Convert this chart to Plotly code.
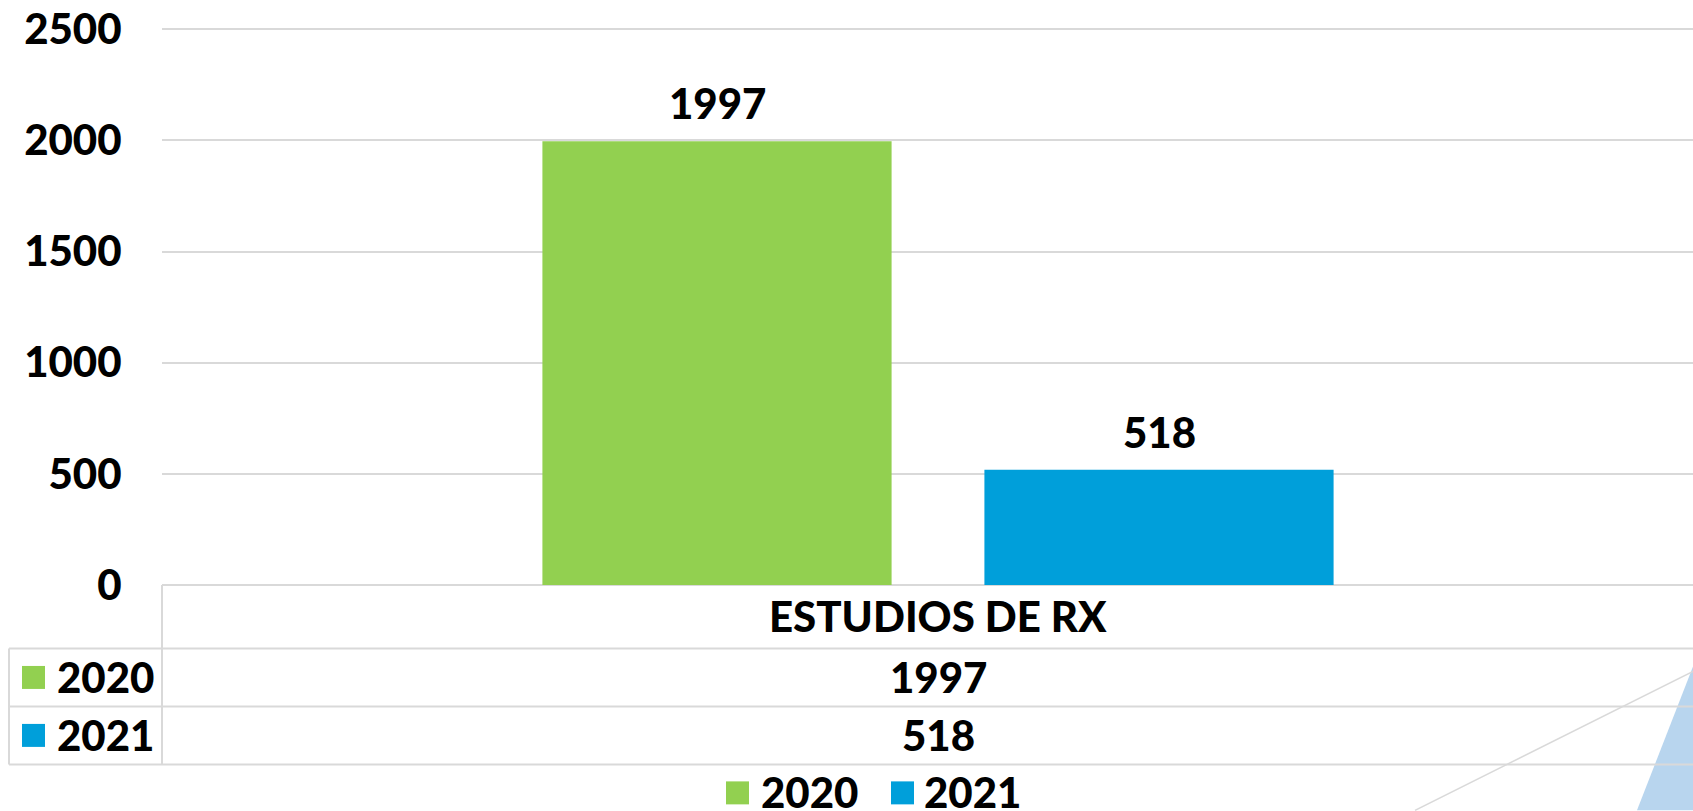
import plotly.graph_objects as go

# ---- data ----
categories = ["ESTUDIOS DE RX"]
series_names = ["2020", "2021"]
values_2020 = [1997]
values_2021 = [518]
series_values = [values_2020, values_2021]
series_colors = ["#92D050", "#009FDA"]
y_tick_values = [0, 500, 1000, 1500, 2000, 2500]

# ---- geometry (pixels) ----
W, H = 1693, 811
L, T, AX = 162, 29.5, 585.5          # plot left, y of 2500, x-axis line (0)
YMAX = 2506
PW = W - L
SCALE = (AX - T) / 2500.0
PH = YMAX * SCALE
TOP = AX - PH
GRID = "#d9d9d9"
FONT = "Lato"
FS = 42
BARGAP = 0.4226
GROUPGAP = 0.21
CENTER_FRAC = (938 - L) / PW


def fx(x):
    return (x - L) / PW


def fy(y):
    return (AX - y) / PH


fig = go.Figure()
for name, vals, col in zip(series_names, series_values, series_colors):
    fig.add_trace(go.Bar(x=categories, y=vals, name=name, marker=dict(color=col, line=dict(width=0)),
                         showlegend=False))

shapes = []
annotations = []

# decorative background triangle + line (bottom right)
shapes.append(dict(type="path", xref="paper", yref="paper", layer="below",
                   path=f"M {fx(1637)} {fy(811)} L {fx(1693)} {fy(667)} L {fx(1693)} {fy(811)} Z",
                   fillcolor="#B8D5EE", line=dict(width=0)))
shapes.append(dict(type="line", xref="paper", yref="paper", layer="below",
                   x0=fx(1415), y0=fy(811), x1=fx(1693), y1=fy(672),
                   line=dict(color=GRID, width=1.5)))

# data table grid
row_lines = [649, 707, 765]
for yy in row_lines:
    shapes.append(dict(type="line", xref="paper", yref="paper", layer="above",
                       x0=fx(9), x1=fx(W), y0=fy(yy), y1=fy(yy), line=dict(color=GRID, width=2)))
shapes.append(dict(type="line", xref="paper", yref="paper", x0=fx(L), x1=fx(L), y0=fy(AX), y1=fy(765),
                   line=dict(color=GRID, width=2)))
shapes.append(dict(type="line", xref="paper", yref="paper", x0=fx(9), x1=fx(9), y0=fy(649), y1=fy(765),
                   line=dict(color=GRID, width=2)))

offset = (1 - BARGAP) / 4
font = dict(family=FONT, size=FS, color="black", weight=900)

# value labels above bars
for i, (name, vals) in enumerate(zip(series_names, series_values)):
    xo = (-offset if i == 0 else offset)
    for j, v in enumerate(vals):
        annotations.append(dict(x=j + xo, y=v, xref="x", yref="y", text=str(v), showarrow=False,
                                yanchor="bottom", yshift=11, font=font))

# table header (category)
for j, c in enumerate(categories):
    annotations.append(dict(x=j, y=fy(617), xref="x", yref="paper", text=c, showarrow=False,
                            yanchor="middle", font=font))

# table rows
row_centers = [678, 736]
for i, (name, vals, col) in enumerate(zip(series_names, series_values, series_colors)):
    yc = row_centers[i]
    shapes.append(dict(type="rect", xref="paper", yref="paper", x0=fx(22), x1=fx(45),
                       y0=fy(yc - 11.5), y1=fy(yc + 11.5), fillcolor=col, line=dict(width=0)))
    annotations.append(dict(x=fx(55), y=fy(yc), xref="paper", yref="paper", text=name, showarrow=False,
                            xanchor="left", yanchor="middle", font=font))
    for j, v in enumerate(vals):
        annotations.append(dict(x=j, y=fy(yc), xref="x", yref="paper", text=str(v), showarrow=False,
                                yanchor="middle", font=font))

# bottom legend
legend_items = [(726, 759), (891, 922)]
for (sx, tx), name, col in zip(legend_items, series_names, series_colors):
    shapes.append(dict(type="rect", xref="paper", yref="paper", x0=fx(sx), x1=fx(sx + 23),
                       y0=fy(782), y1=fy(805), fillcolor=col, line=dict(width=0)))
    annotations.append(dict(x=fx(tx), y=fy(793), xref="paper", yref="paper", text=name, showarrow=False,
                            xanchor="left", yanchor="middle", font=font))

fig.update_layout(
    width=W, height=H,
    margin=dict(l=L, r=0, t=TOP, b=H - AX, pad=0),
    paper_bgcolor="white", plot_bgcolor="white",
    barmode="group", bargap=BARGAP, bargroupgap=GROUPGAP,
    font=font,
    shapes=shapes, annotations=annotations,
    showlegend=False,
    xaxis=dict(type="category", range=[-CENTER_FRAC, 1 - CENTER_FRAC], showticklabels=False,
               showgrid=False, zeroline=False, showline=False, fixedrange=True),
    yaxis=dict(range=[0, YMAX], tickvals=y_tick_values, showgrid=True, gridcolor=GRID, gridwidth=2,
               zeroline=True, zerolinecolor=GRID, zerolinewidth=2, showline=False,
               ticks="outside", ticklen=0, ticklabelstandoff=31,
               tickfont=font, fixedrange=True),
)

fig.write_html("out.html", config={"displayModeBar": False},
               post_script="document.body.style.margin='0';document.body.style.overflow='hidden';")
